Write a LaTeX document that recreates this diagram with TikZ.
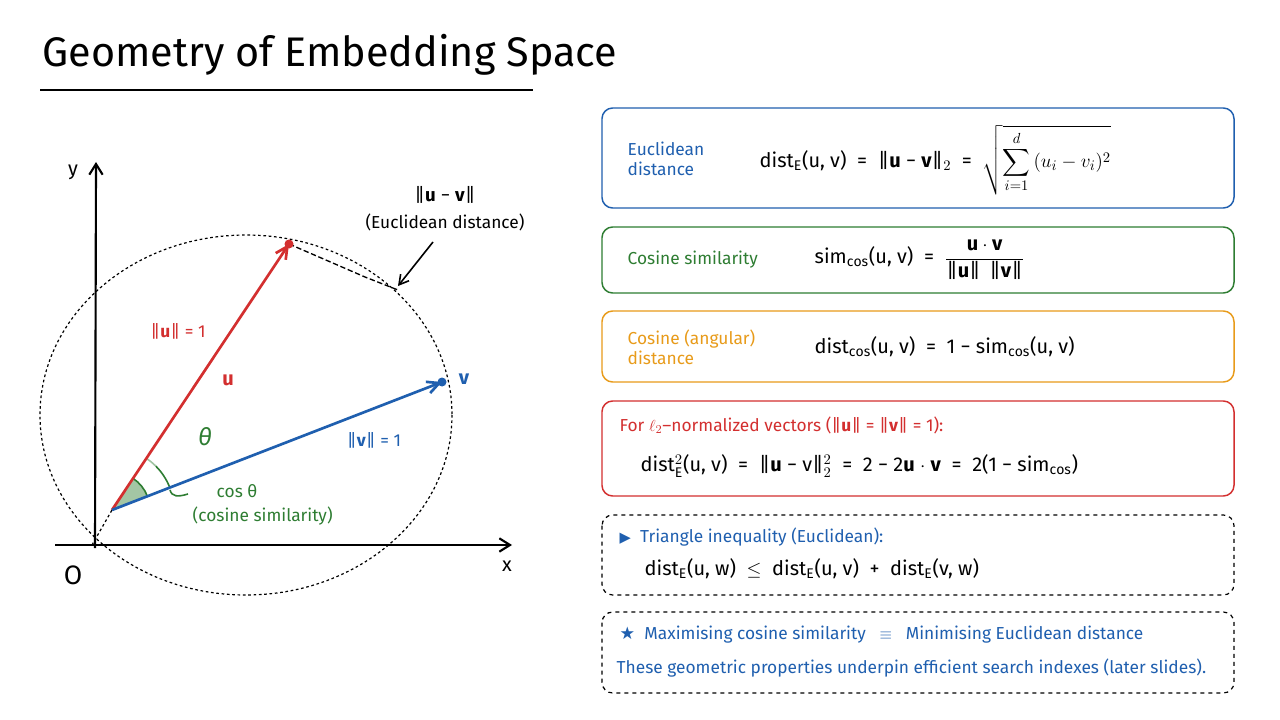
\documentclass[tikz,border=0pt]{standalone}
\usepackage{amsmath}
\usepackage{fontspec}
\setmainfont{Fira Sans}
\newfontfamily\symf{DejaVu Sans}
\usetikzlibrary{arrows.meta}
\definecolor{cblue}{HTML}{1F5FAF}
\definecolor{cgreen}{HTML}{2E7D32}
\definecolor{corange}{HTML}{E89B1A}
\definecolor{cred}{HTML}{D32F2F}
\begin{document}
\begin{tikzpicture}[x=0.75pt,y=-0.75pt,
  panel/.style={draw,rounded corners=8pt,line width=1.1pt},
  lbl/.style={font=\fontsize{13}{15}\selectfont,anchor=west},
  eq/.style={font=\fontsize{15}{18}\selectfont,anchor=west},
  ax/.style={line width=1.6pt,-{Straight Barb[length=8pt,width=10pt]}},
  vec/.style={line width=2pt,-{Straight Barb[length=9pt,width=9pt]}}]
\useasboundingbox (0,0) rectangle (1280,720);
\fill[white] (0,0) rectangle (1280,720);
% title
\node[anchor=west,font=\fontsize{31}{36}\selectfont] (title) at (38,55) {Geometry of Embedding Space};
\draw[line width=1.5pt] (40,90) -- (533,90);
% axes
\coordinate (O) at (92,545);
\coordinate (xe) at (512,545);
\coordinate (ye) at (96,162);
\draw[ax] (55,545) -- (xe);
\draw[ax] (95,548) -- (ye);
\node[font=\fontsize{15}{18}\selectfont] (ylab) at (73,172) {y};
\node[font=\fontsize{15}{18}\selectfont] (xlab) at (507,566) {x};
\node[font=\fontsize{20}{24}\selectfont] (olab) at (73,575) {O};
% circle
\draw[line width=0.9pt,dash pattern=on 2pt off 2pt] (246,415) ellipse [x radius=206, y radius=180];
\coordinate (S) at (112,510);
\coordinate (U) at (289,244);
\coordinate (V) at (442,382);
\draw[dash pattern=on 2pt off 2pt,line width=0.9pt] (O) -- (S);
\draw[dash pattern=on 4pt off 2pt,line width=1pt] (U) -- (365,277) -- (398,290);
% angle
\fill[cgreen!55,opacity=0.8] (S) -- ++(-56.3:38) arc[start angle=-56.3,end angle=-21.2,radius=38] -- cycle;
\draw[cgreen,line width=1.2pt] (S) ++(-56.3:38) arc[start angle=-56.3,end angle=-21.2,radius=38];
\draw[cgreen!45,line width=1.2pt] (S) ++(-56.3:62) arc[start angle=-56.3,end angle=-45,radius=62];
\draw[cgreen,line width=1.2pt] (S) ++(-45:62) arc[start angle=-45,end angle=-21.2,radius=62];
\draw[cgreen,line width=1.2pt] (170,490) .. controls (172,497) and (178,497) .. (188,494);
\node[text=cgreen,font=\fontsize{18}{20}\selectfont\itshape] (th) at (205,437) {θ};
\node[text=cgreen,font=\fontsize{13}{15}\selectfont,anchor=west] (cs1) at (212,491) {cos θ};
\node[text=cgreen,font=\fontsize{13}{15}\selectfont,anchor=west] (cs2) at (188,516) {(cosine similarity)};
% vectors
\draw[vec,cred] (S) -- (U);
\draw[vec,cblue] (S) -- (V);
\fill[cred] (U) circle (4.5);
\fill[cblue] (V) circle (4.5);
\node[text=cred,font=\fontsize{13}{15}\selectfont] (un) at (178,331) {‖\textbf{u}‖ = 1};
\node[text=cred,font=\fontsize{15}{18}\selectfont\bfseries] (ul) at (228,380) {u};
\node[text=cblue,font=\fontsize{15}{18}\selectfont\bfseries] (vl) at (464,379) {v};
\node[text=cblue,font=\fontsize{13}{15}\selectfont] (vn) at (374,440) {‖\textbf{v}‖ = 1};
\node[font=\fontsize{14}{16}\selectfont] (ed1) at (445,195) {‖\textbf{u} − \textbf{v}‖};
\node[font=\fontsize{13}{15}\selectfont] (ed2) at (445,222) {(Euclidean distance)};
\draw[line width=1.2pt,-{Straight Barb[length=7pt,width=8pt]}] (433,242) -- (398,286);
% panels
\draw[panel,cblue] (602,108) rectangle (1234,208);
\node[lbl,text=cblue,align=left] (p1l) at (623,159) {Euclidean\\distance};
\node[eq] (p1e) at (755,160) {dist$_{\mathrm{E}}$(u, v) \ = \ ‖\textbf{u} − \textbf{v}‖$_2$ \ = \ $\displaystyle\sqrt{\sum_{i=1}^{d}\,(u_i-v_i)^2}$};
\draw[panel,cgreen] (602,227) rectangle (1234,293);
\node[lbl,text=cgreen] (p2l) at (623,260) {Cosine similarity};
\node[eq] (p2e) at (810,260) {sim$_{\mathrm{cos}}$(u, v) \ = \ $\displaystyle\frac{\textbf{u}\cdot\textbf{v}}{\text{‖\textbf{u}‖ \,‖\textbf{v}‖}}$};
\draw[panel,corange] (602,311) rectangle (1234,382);
\node[lbl,text=corange,align=left] (p3l) at (623,347) {Cosine (angular)\\distance};
\node[eq] (p3e) at (810,347) {dist$_{\mathrm{cos}}$(u, v) \ = \ 1 − sim$_{\mathrm{cos}}$(u, v)};
\draw[panel,cred] (602,401) rectangle (1234,496);
\node[lbl,text=cred] (p4l) at (615,425) {For $\ell_2$–normalized vectors (‖\textbf{u}‖ = ‖\textbf{v}‖ = 1):};
\node[eq] (p4e) at (636,466) {dist$^2_{\mathrm{E}}$(u, v) \ = \ ‖\textbf{u} − v‖$^2_2$ \ = \ 2 − 2\textbf{u} $\cdot$ \textbf{v} \ = \ 2(1 − sim$_{\mathrm{cos}}$)};
\draw[panel,dashed,line width=0.9pt] (602,515) rectangle (1234,595);
\node[lbl,text=cblue] (p5l) at (615,537) {{\symf\fontsize{11}{13}\selectfont ▶} \ Triangle inequality (Euclidean):};
\node[eq] (p5e) at (640,569) {dist$_{\mathrm{E}}$(u, w) \ $\le$ \ dist$_{\mathrm{E}}$(u, v) \ + \ dist$_{\mathrm{E}}$(v, w)};
\draw[panel,dashed,line width=0.9pt] (602,612) rectangle (1234,693);
\node[lbl,text=cblue] (p6l) at (615,635) {{\symf★} \ Maximising cosine similarity \ \ $\equiv$ \ \ Minimising Euclidean distance};
\node[lbl,text=cblue] (p6m) at (612,668) {These geometric properties underpin efficient search indexes (later slides).};
\end{tikzpicture}
\end{document}
